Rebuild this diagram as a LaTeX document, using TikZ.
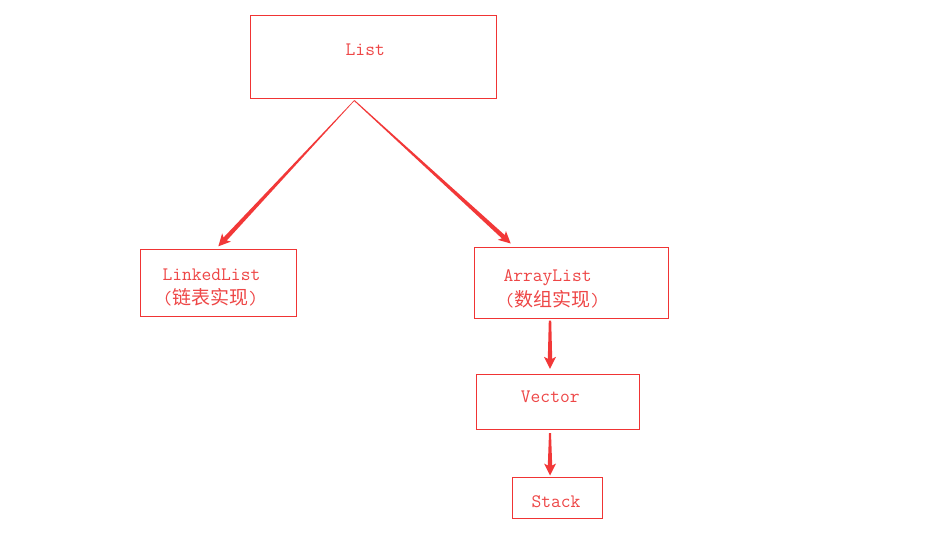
\documentclass[tikz,border=0pt]{standalone}
\usepackage{fontspec}
\newfontfamily\cjk{Noto Sans CJK SC}
\usetikzlibrary{calc}
\definecolor{boxred}{RGB}{240,52,52}
\definecolor{txtred}{RGB}{238,70,70}
\definecolor{arrred}{RGB}{242,56,56}
\tikzset{
  box/.style={draw=boxred, line width=1pt, rectangle, inner sep=0pt},
  lbl/.style={text=txtred, inner sep=0pt, anchor=base west, font=\ttfamily\fontsize{19}{22}\selectfont},
  arr/.style={fill=arrred},
}
\newcommand\zh[1]{{\cjk\fontsize{19}{20}\selectfont #1}}
\newcommand\taperarrow[3]{%
  \coordinate (hb) at ($(#2)!12pt!(#1)$);
  \coordinate (hn) at ($(#2)!10pt!(#1)$);
  \fill[arr] ($(#1)!#3!90:(#2)$) -- ($(hn)!2.2pt!90:(#2)$) -- ($(hb)!6pt!90:(#2)$) -- (#2)
    -- ($(hb)!6pt!-90:(#2)$) -- ($(hn)!2.2pt!-90:(#2)$) -- ($(#1)!#3!-90:(#2)$) -- cycle;}
\begin{document}
\begin{tikzpicture}[x=1pt,y=-1pt]
\useasboundingbox[fill=white] (0,0) rectangle (928,543);
% boxes
\node[box, minimum width=246pt, minimum height=83pt] (list) at (373.3,56.8) {};
\node[box, minimum width=155.3pt, minimum height=66.7pt] (ll) at (218.35,282.65) {};
\node[box, minimum width=194pt, minimum height=71pt] (al) at (571.3,282.8) {};
\node[box, minimum width=163pt, minimum height=54.7pt] (vec) at (557.8,401.65) {};
\node[box, minimum width=90pt, minimum height=41pt] (st) at (557.3,497.8) {};
% texts
\node[lbl] (tlist) at (345.5,56) {List};
\node[lbl] (tll1) at (162.3,280) {LinkedList};
\node[lbl] (tll2) at (162.3,304) {(\zh{链表实现})};
\node[lbl] (tal1) at (503.3,281.7) {ArrayList};
\node[lbl] (tal2) at (504.5,306.5) {(\zh{数组实现})};
\node[lbl] (tvec) at (520.7,402.7) {Vector};
\node[lbl] (tst) at (531.3,507.7) {Stack};
% connector points
\coordinate (fork) at ([xshift=-19pt,yshift=-1.7pt]list.south);
\coordinate (llin) at ([yshift=2.5pt]ll.north);
\coordinate (alin) at ([xshift=-60.6pt,yshift=3.3pt]al.north);
\coordinate (alout) at ([xshift=-21.3pt,yshift=-1.7pt]al.south);
\coordinate (vecin) at ([xshift=-7.8pt,yshift=5pt]vec.north);
\coordinate (vecout) at ([xshift=-7.8pt,yshift=-3.7pt]vec.south);
\coordinate (stin) at ([xshift=-7.3pt,yshift=1.3pt]st.north);
% arrows
\taperarrow{fork}{llin}{0.3pt}
\taperarrow{fork}{alin}{0.5pt}
\taperarrow{alout}{vecin}{1.2pt}
\taperarrow{vecout}{stin}{1pt}
\end{tikzpicture}
\end{document}
